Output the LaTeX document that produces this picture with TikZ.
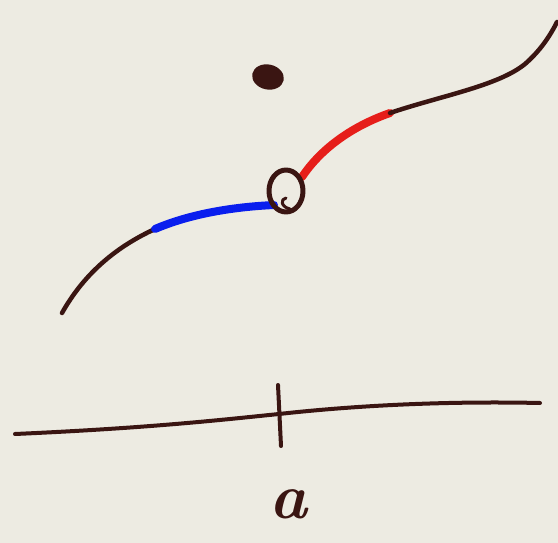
\documentclass[tikz,border=0pt]{standalone}
\usepackage{xcolor}
\usepackage{tikz}
\definecolor{paper}{HTML}{EDEBE2}
\definecolor{inkbrown}{HTML}{3A1512}
\definecolor{penblue}{HTML}{0A1EEE}
\definecolor{penred}{HTML}{E61E1A}

\begin{document}
\begin{tikzpicture}[x=1pt, y=-1pt, line cap=round, line join=round,
    ink/.style={draw=inkbrown, line width=4.5pt},
    marker/.style={draw=#1, line width=8pt}]
  % paper
  \fill[paper] (0,0) rectangle (558,543);
  \useasboundingbox (0,0) rectangle (558,543);

  % filled point above the hole
  \fill[inkbrown, rotate around={-12:(268,77)}] (268,77) ellipse (16 and 12.5);

  % left branch
  \draw[ink] (62,313) .. controls (85,272) and (118,246) .. (155,229);
  \draw[marker=penblue] (155,229) .. controls (190,214) and (232,207) .. (274,205);

  % right branch
  \draw[marker=penred] (302,177) .. controls (320,150) and (350,127) .. (390,113);
  \draw[ink] (390,113) .. controls (440,96) and (498,86) .. (525,64)
    .. controls (540,51) and (550,36) .. (557,22);

  % the hole
  \draw[ink, line width=5pt] (286,191) ellipse (17 and 21);
  \draw[ink, line width=3pt] (290,209) .. controls (281,207) and (280,199) .. (286,198);

  % axis with tick at a
  \draw[ink, line width=4pt] (15,434) .. controls (150,428) and (220,420) .. (279,414)
    .. controls (360,405) and (450,401) .. (540,403);
  \draw[ink, line width=4pt] (278,385) -- (281,446);
  \node[text=inkbrown, font=\fontsize{64}{64}\selectfont\itshape\bfseries] (alabel) at (288,504) {a};
\end{tikzpicture}
\end{document}
